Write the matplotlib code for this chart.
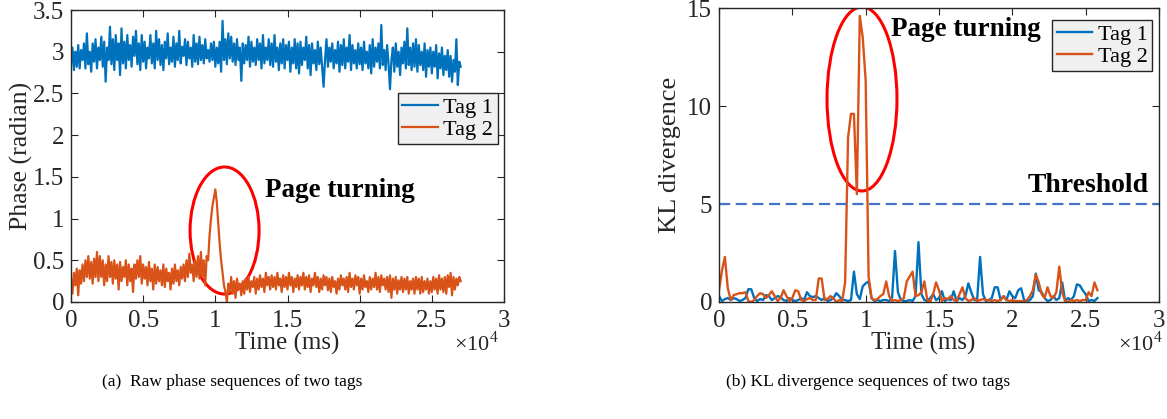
import matplotlib
matplotlib.use("Agg")
import matplotlib.pyplot as plt
from matplotlib.patches import Ellipse
import numpy as np

plt.rcParams['font.family'] = ['Liberation Serif', 'DejaVu Serif']
plt.rcParams['mathtext.fontset'] = 'custom'
plt.rcParams['mathtext.rm'] = 'Liberation Serif'

# ---------------- data: (a) raw phase, sampled every 100 ms ----------------
phase_step_ms = 100
phase_tag1 = [
    2.85, 3.05, 2.78, 3.0, 2.82, 3.08, 2.8, 3.02, 2.9, 3.1,
    2.8, 3.22, 2.85, 3.0, 2.76, 3.1, 2.88, 3.15, 2.8, 3.05,
    2.9, 3.18, 2.82, 3.12, 2.64, 3.05, 2.9, 3.3, 2.85, 3.15,
    2.78, 3.2, 2.9, 3.1, 2.72, 3.28, 2.86, 3.12, 2.8, 3.2,
    2.9, 3.08, 2.82, 3.18, 2.95, 3.25, 2.85, 3.1, 2.78, 3.2,
    2.88, 3.12, 2.8, 3.05, 2.92, 3.2, 2.86, 3.1, 2.8, 3.25,
    2.9, 3.15, 2.84, 3.08, 2.78, 3.12, 2.92, 3.22, 2.85, 3.05,
    2.88, 3.18, 2.82, 3.1, 2.9, 3.25, 2.86, 3.06, 2.95, 3.15,
    2.84, 3.12, 2.92, 3.05, 2.82, 3.2, 2.88, 3.1, 2.85, 3.18,
    2.9, 3.08, 2.86, 3.15, 2.92, 3.02, 2.88, 3.1, 2.9, 3.12,
    2.82, 3.05, 2.86, 3.12, 2.76, 3.37, 2.9, 3.15, 2.85, 3.22,
    2.92, 3.18, 2.88, 3.1, 2.84, 3.15, 2.9, 3.05, 2.65, 3.1,
    2.86, 3.08, 2.9, 3.18, 2.82, 3.12, 2.88, 3.05, 2.84, 3.15,
    2.9, 3.1, 2.8, 3.2, 2.86, 3.05, 2.9, 3.15, 2.84, 3.1,
    2.82, 3.2, 2.88, 3.05, 2.78, 3.1, 2.86, 3.15, 2.8, 3.08,
    2.9, 3.12, 2.76, 3.05, 2.86, 3.15, 2.8, 3.1, 2.74, 3.12,
    2.84, 3.05, 2.9, 3.18, 2.8, 3.08, 2.72, 3.1, 2.86, 3.02,
    2.78, 3.12, 2.85, 3.05, 2.82, 2.58, 2.9, 3.15, 2.82, 3.05,
    2.88, 3.1, 2.8, 3.02, 2.86, 3.12, 2.76, 3.08, 2.84, 3.15,
    2.8, 3.05, 2.88, 3.2, 2.78, 3.08, 2.86, 3.02, 2.8, 3.1,
    2.85, 3.05, 2.78, 3.12, 2.86, 3.0, 2.8, 3.08, 2.74, 3.15,
    2.82, 3.05, 2.88, 3.1, 2.8, 3.32, 2.84, 3.02, 2.78, 3.08,
    2.86, 2.55, 2.9, 3.05, 2.76, 3.1, 2.82, 3.0, 2.72, 3.05,
    2.86, 3.12, 2.8, 3.28, 2.84, 3.05, 2.78, 3.1, 2.82, 3.15,
    2.76, 3.08, 2.84, 3.0, 2.78, 3.1, 2.7, 3.02, 2.82, 3.05,
    2.74, 3.0, 2.82, 3.08, 2.68, 2.98, 2.8, 3.05, 2.72, 2.95,
    2.78, 3.02, 2.7, 2.95, 2.64, 2.9, 2.76, 3.15, 2.6, 2.88,
    2.82,
]
phase_tag2 = [
    0.28, 0.1, 0.35, 0.2, 0.4, 0.08, 0.38, 0.22, 0.45, 0.25,
    0.5, 0.3, 0.55, 0.28, 0.48, 0.22, 0.52, 0.3, 0.6, 0.25,
    0.55, 0.3, 0.5, 0.2, 0.45, 0.25, 0.55, 0.3, 0.48, 0.22,
    0.5, 0.28, 0.45, 0.15, 0.48, 0.25, 0.42, 0.3, 0.5, 0.2,
    0.45, 0.25, 0.4, 0.12, 0.45, 0.28, 0.5, 0.3, 0.55, 0.22,
    0.45, 0.28, 0.42, 0.2, 0.48, 0.25, 0.4, 0.15, 0.45, 0.22,
    0.42, 0.25, 0.38, 0.2, 0.45, 0.18, 0.4, 0.25, 0.35, 0.15,
    0.4, 0.22, 0.45, 0.25, 0.38, 0.2, 0.42, 0.28, 0.45, 0.25,
    0.5, 0.3, 0.58, 0.35, 0.45, 0.25, 0.5, 0.3, 0.55, 0.28,
    0.6, 0.3, 0.5, 0.2, 0.55, 0.5, 0.8, 1.0, 1.15, 1.25,
    1.35, 1.2, 0.95, 0.7, 0.5, 0.35, 0.2, 0.12, 0.0, 0.22,
    0.12, 0.3, 0.1, 0.25, 0.05, 0.28, 0.15, 0.22, 0.08, 0.25,
    0.1, 0.28, 0.15, 0.3, 0.12, 0.25, 0.18, 0.3, 0.1, 0.28,
    0.15, 0.32, 0.18, 0.28, 0.12, 0.35, 0.2, 0.3, 0.15, 0.32,
    0.18, 0.3, 0.15, 0.35, 0.2, 0.28, 0.12, 0.32, 0.18, 0.3,
    0.15, 0.35, 0.2, 0.3, 0.12, 0.28, 0.18, 0.32, 0.15, 0.3,
    0.2, 0.35, 0.15, 0.3, 0.18, 0.32, 0.12, 0.28, 0.2, 0.35,
    0.18, 0.3, 0.12, 0.28, 0.15, 0.32, 0.2, 0.3, 0.14, 0.28,
    0.12, 0.3, 0.18, 0.25, 0.1, 0.28, 0.15, 0.32, 0.2, 0.28,
    0.15, 0.3, 0.12, 0.35, 0.18, 0.28, 0.15, 0.32, 0.2, 0.3,
    0.1, 0.28, 0.15, 0.32, 0.18, 0.25, 0.12, 0.3, 0.15, 0.28,
    0.18, 0.35, 0.15, 0.3, 0.12, 0.32, 0.2, 0.28, 0.15, 0.3,
    0.12, 0.32, 0.05, 0.28, 0.15, 0.3, 0.1, 0.26, 0.15, 0.3,
    0.12, 0.28, 0.15, 0.3, 0.1, 0.25, 0.15, 0.28, 0.1, 0.3,
    0.15, 0.28, 0.1, 0.3, 0.12, 0.25, 0.15, 0.28, 0.1, 0.25,
    0.12, 0.3, 0.15, 0.28, 0.1, 0.32, 0.15, 0.28, 0.12, 0.3,
    0.1, 0.32, 0.18, 0.35, 0.08, 0.3, 0.15, 0.28, 0.2, 0.3,
    0.25,
]

# ---------------- data: (b) KL divergence, every 200 ms ----------------
kl_step_ms = 200
kl_tag1 = [
    0.3, 0.05, 0.15, 0.2, 0.1, 0.2, 0.15, 0.05, 0.1, 0.2,
    0.65, 0.65, 0.2, 0.05, 0.15, 0.1, 0.35, 0.3, 0.1, 0.2,
    0.3, 0.25, 0.1, 0.05, 0.2, 0.1, 0.05, 0.1, 0.2, 0.1,
    0.5, 0.3, 0.25, 0.3, 0.2, 0.1, 0.2, 0.05, 0.1, 0.2,
    0.45, 0.3, 0.1, 0.1, 0.05, 0.1, 1.55, 0.4, 0.15, 0.8,
    0.95, 1.05, 0.2, 0.05, 0.1, 0.05, 0.1, 0.1, 0.05, 0.2,
    2.6, 0.5, 0.1, 0.05, 0.05, 0.1, 0.05, 0.3, 3.05, 0.4,
    0.1, 0.05, 0.2, 0.4, 0.1, 0.2, 0.55, 0.05, 0.15, 0.1,
    0.55, 0.05, 0.2, 0.1, 0.3, 0.95, 0.5, 0.1, 0.1, 2.3,
    0.4, 0.05, 0.1, 0.2, 0.75, 0.75, 0.1, 0.3, 0.1, 0.55,
    0.3, 0.2, 0.6, 0.7, 0.1, 0.05, 0.1, 0.3, 1.45, 0.6,
    0.5, 0.2, 0.05, 0.1, 0.3, 0.1, 0.2, 1.0, 0.05, 0.2,
    0.1, 0.3, 0.9, 0.85, 0.6, 0.4, 0.05, 0.1, 0.05, 0.2,
]
kl_tag2 = [
    0.6, 1.6, 2.3, 0.7, 0.1, 0.35, 0.4, 0.45, 0.45, 0.5,
    0.05, 0.0, 0.1, 0.3, 0.45, 0.4, 0.2, 0.35, 0.55, 0.3,
    0.05, 0.2, 0.6, 0.3, 0.05, 0.2, 0.6, 0.55, 0.1, 0.05,
    0.15, 0.2, 0.1, 0.1, 1.2, 1.2, 0.1, 0.15, 0.3, 0.2,
    0.0, 0.1, 0.05, 1.0, 8.4, 9.6, 9.6, 5.5, 14.6, 13.5,
    11.3, 1.3, 0.2, 0.1, 0.15, 0.3, 0.4, 1.05, 0.3, 0.05,
    0.1, 0.05, 0.1, 0.2, 1.05, 1.3, 1.55, 0.3, 0.35, 0.5,
    1.05, 0.1, 0.0, 0.4, 1.0, 0.6, 0.05, 0.2, 0.15, 0.3,
    0.1, 0.05, 0.4, 0.75, 0.2, 0.05, 0.1, 0.2, 0.05, 0.1,
    0.15, 0.1, 0.1, 0.05, 0.1, 0.05, 0.1, 0.3, 0.1, 0.05,
    0.1, 0.05, 0.05, 0.05, 0.0, 0.1, 0.3, 0.6, 1.4, 1.0,
    0.4, 0.2, 0.75, 0.3, 0.2, 0.5, 1.8, 0.5, 0.05, 0.0,
    0.1, 0.05, 0.1, 0.05, 0.1, 0.1, 0.5, 0.3, 1.0, 0.6,
]
threshold = 5

legend_labels = ["Tag 1", "Tag 2"]
x_ticks_e4 = [0, 0.5, 1, 1.5, 2, 2.5, 3]
x_tick_labels = ["0", "0.5", "1", "1.5", "2", "2.5", "3"]
phase_yticks = [0, 0.5, 1, 1.5, 2, 2.5, 3, 3.5]
phase_ytick_labels = ["0", "0.5", "1", "1.5", "2", "2.5", "3", "3.5"]
kl_yticks = [0, 5, 10, 15]

C_BLUE = "#0072BD"
C_ORANGE = "#D95319"
C_AX = "#262626"

W, H = 1167, 419
fig = plt.figure(figsize=(W / 100, H / 100), dpi=100)


def px_axes(x0, y0, x1, y1):
    return fig.add_axes([x0 / W, 1 - y1 / H, (x1 - x0) / W, (y1 - y0) / H])


def style(ax):
    for s in ax.spines.values():
        s.set_color(C_AX)
        s.set_linewidth(1.0)
    ax.tick_params(direction='in', top=True, right=True, length=5,
                   width=0.8, color=C_AX, labelcolor=C_AX, labelsize=18)
    ax.tick_params(axis='x', pad=6)
    ax.tick_params(axis='y', pad=5)


def style_legend(leg):
    fr = leg.get_frame()
    fr.set_facecolor('#F0F0F0')
    fr.set_edgecolor(C_AX)
    fr.set_linewidth(1.0)
    fr.set_alpha(1)


ax1 = px_axes(71, 10, 504, 302)
ax2 = px_axes(719, 8, 1159, 302)

# ---- (a)
x_phase = np.arange(len(phase_tag1)) * phase_step_ms
ax1.plot(x_phase, phase_tag1, color=C_BLUE, lw=1.6, label=legend_labels[0])
ax1.plot(x_phase, phase_tag2, color=C_ORANGE, lw=1.6, label=legend_labels[1])
ax1.set_xlim(0, 30000)
ax1.set_ylim(0, 3.5)
ax1.set_xticks([v * 1e4 for v in x_ticks_e4])
ax1.set_xticklabels(x_tick_labels)
ax1.set_yticks(phase_yticks)
ax1.set_yticklabels(phase_ytick_labels)
style(ax1)
ax1.set_ylabel("Phase (radian)", fontsize=18.5, color=C_AX, labelpad=0)
ax1.add_patch(Ellipse((10640, 0.857), 4780, 1.523, fill=False,
                      edgecolor='#FF0000', lw=2.2))
fig.text(265 / W, 1 - 190 / H, "Page turning", fontsize=19.5,
         fontweight='bold', va='center', ha='left')
leg1 = ax1.legend(loc='upper right', bbox_to_anchor=(0.985, 0.716),
                  fontsize=16, frameon=True, fancybox=False,
                  handlelength=1.6, handletextpad=0.25, borderpad=0.2,
                  labelspacing=0.05, borderaxespad=0)
style_legend(leg1)

# ---- (b)
x_kl = np.arange(len(kl_tag1)) * kl_step_ms
ax2.plot(x_kl, kl_tag1, color=C_BLUE, lw=1.7, label=legend_labels[0])
ax2.plot(x_kl, kl_tag2, color=C_ORANGE, lw=1.7, label=legend_labels[1])
ax2.axhline(threshold, color='#4472C4', lw=1.6, ls=(0, (5, 2.5)))
ax2.set_xlim(0, 30000)
ax2.set_ylim(0, 15)
ax2.set_xticks([v * 1e4 for v in x_ticks_e4])
ax2.set_xticklabels(x_tick_labels)
ax2.set_yticks(kl_yticks)
style(ax2)
ax2.set_ylabel("KL divergence", fontsize=19, color=C_AX, labelpad=4)
ax2.add_patch(Ellipse((9750, 10.36), 4770, 9.39, fill=False,
                      edgecolor='#FF0000', lw=2.2))
fig.text(891 / W, 1 - 30 / H, "Page turning", fontsize=19.5,
         fontweight='bold', va='center', ha='left')
fig.text(1149 / W, 1 - 185 / H, "Threshold", fontsize=20,
         fontweight='bold', va='center', ha='right')
leg2 = ax2.legend(loc='upper right', bbox_to_anchor=(0.984, 0.959),
                  fontsize=16, frameon=True, fancybox=False,
                  handlelength=1.6, handletextpad=0.25, borderpad=0.2,
                  labelspacing=0.05, borderaxespad=0)
style_legend(leg2)

# x labels and exponent
for xc, ex in [(287, 476), (923, 1140)]:
    fig.text(xc / W, 1 - 343 / H, "Time (ms)", fontsize=18, color=C_AX,
             ha='center', va='center')
    fig.text(ex / W, 1 - 343 / H, r"$\times10^{4}$", fontsize=16, color=C_AX,
             ha='center', va='center')

# captions
fig.text(232 / W, 1 - 382 / H, "(a)  Raw phase sequences of two tags",
         fontsize=12.5, ha='center', va='center')
fig.text(868 / W, 1 - 382 / H, "(b) KL divergence sequences of two tags",
         fontsize=12.5, ha='center', va='center')

fig.savefig("out.png", dpi=100)
